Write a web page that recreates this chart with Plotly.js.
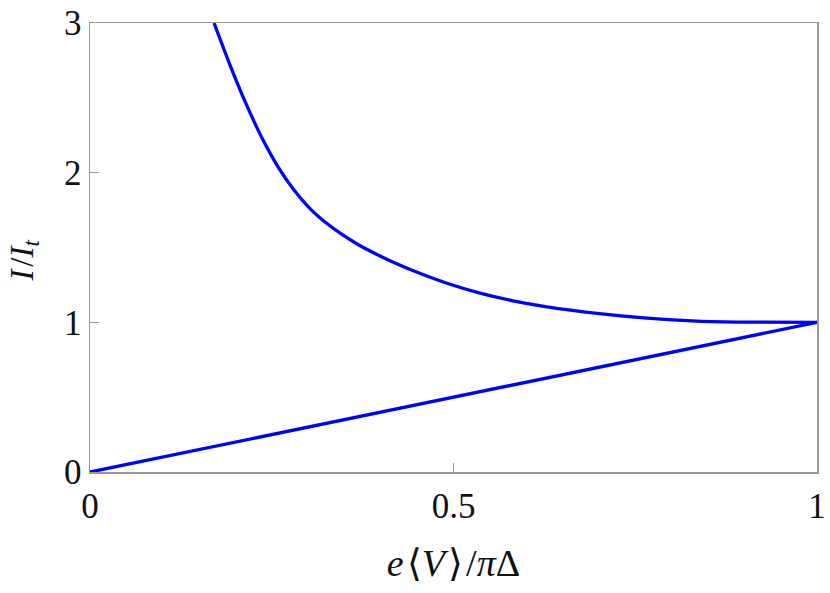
<!DOCTYPE html>
<html>
<head>
<meta charset="utf-8">
<script src="https://cdn.plot.ly/plotly-3.0.1.min.js"></script>
<style>html,body{margin:0;padding:0;background:#fff;}#chart{width:830px;height:593px;}</style>
</head>
<body>
<div id="chart"></div>
<script>
// Upper branch
const upperX = [0.1706, 0.1926, 0.2146, 0.2366, 0.2586, 0.2806, 0.3026, 0.3246, 0.3466, 0.3686, 0.3906, 0.4127, 0.4457, 0.4911, 0.5365, 0.5818, 0.6286, 0.6974, 0.7662, 0.8349, 0.9037, 1.0];
const upperY = [3.0, 2.719, 2.461, 2.231, 2.039, 1.884, 1.760, 1.665, 1.587, 1.520, 1.463, 1.412, 1.343, 1.261, 1.195, 1.144, 1.104, 1.060, 1.028, 1.008, 1.001, 1.0];
// Lower branch
const lowerX = [0, 1];
const lowerY = [0, 1];
// Ticks
const xTickVals = [0, 0.5, 1];
const xTickText = ['0', '0.5', '1'];
const yTickVals = [0, 1, 2, 3];
const yTickText = ['0', '1', '2', '3'];

const font = 'Liberation Serif, DejaVu Serif, serif';
const lineStyle = {color: '#0000ff', width: 3.3};

const traces = [
  {x: upperX, y: upperY, type: 'scatter', mode: 'lines', line: Object.assign({shape: 'spline', smoothing: 0.7}, lineStyle), hoverinfo: 'skip'},
  {x: lowerX, y: lowerY, type: 'scatter', mode: 'lines', line: lineStyle, hoverinfo: 'skip'}
];

const axisCommon = {
  showgrid: false, zeroline: false,
  showline: true, mirror: true, linecolor: '#999999', linewidth: 1.5,
  ticks: 'inside', ticklen: 9, tickwidth: 1.2, tickcolor: '#999999',
  tickfont: {family: font, size: 35, color: '#111111'},
  tickmode: 'array'
};

const layout = {
  width: 830, height: 593,
  margin: {l: 90, r: 13, t: 23, b: 121},
  paper_bgcolor: '#ffffff', plot_bgcolor: '#ffffff',
  showlegend: false,
  xaxis: Object.assign({}, axisCommon, {
    range: [0, 1], tickvals: xTickVals, ticktext: xTickText, ticklabelstandoff: 2,
    title: {text: '<i>e</i>\u200a⟨<i>V</i>\u200a⟩\u200a/<i>π</i>Δ', font: {family: font, size: 38, color: '#111111'}, standoff: 25}
  }),
  yaxis: Object.assign({}, axisCommon, {
    range: [0, 3], tickvals: yTickVals, ticktext: yTickText
  }),
  annotations: [{
    text: '<i>I</i>\u200a/<i>I<sub>t</sub></i>',
    xref: 'paper', yref: 'paper', x: 0, y: 0.5,
    xanchor: 'center', yanchor: 'middle', xshift: -66, yshift: -13,
    textangle: -90, showarrow: false,
    font: {family: font, size: 33, color: '#111111'}
  }]
};

Plotly.newPlot('chart', traces, layout, {displayModeBar: false, staticPlot: true});
</script>
</body>
</html>
